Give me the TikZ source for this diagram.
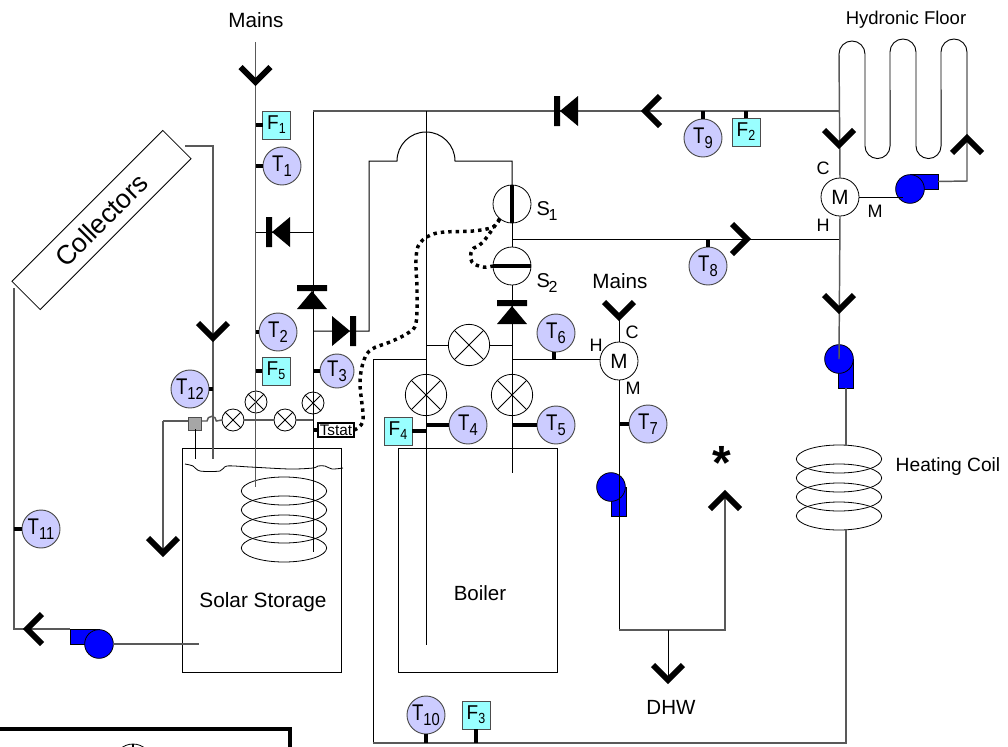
\documentclass[tikz,border=0pt]{standalone}
\usepackage{fontspec}
\setmainfont{Liberation Sans}
\newcommand{\fs}[1]{\fontsize{#1}{#1}\selectfont}
\newcommand{\tlab}[1]{\scalebox{0.82}[1]{\fs{17}T}\raisebox{-4pt}{\scalebox{0.85}[1]{\fs{13}#1}}}
\newcommand{\flab}[1]{\scalebox{0.95}[1]{\fs{15}F}\raisebox{-3pt}{\scalebox{0.85}[1]{\fs{11}#1}}}
\newcommand{\slab}[1]{\fs{15}S\hspace{-1pt}\raisebox{-3.5pt}{\fs{12}#1}}
\definecolor{sensorfill}{HTML}{CCCCFF}
\definecolor{flowfill}{HTML}{99FFFF}
\tikzset{
  x=0.75pt,y=-0.75pt,
  pipe/.style={draw=black,line width=0.75pt},
  gpipe/.style={draw=black!65,line width=1.1pt},
  thin outline/.style={draw=black,line width=0.6pt},
  tsensor/.style={circle,draw=black!70,line width=0.7pt,fill=sensorfill,minimum size=28.5pt,inner sep=0pt,outer sep=0pt},
  fsensor/.style={rectangle,draw=black!70,line width=0.7pt,fill=flowfill,minimum size=21pt,inner sep=0pt,outer sep=0pt},
  tick/.style={draw=black,line width=2.4pt},
  xvalve/.style={circle,thin outline,inner sep=0pt,outer sep=0pt,minimum size=#1,
     path picture={\draw[line width=0.6pt] (path picture bounding box.north west)--(path picture bounding box.south east)
        (path picture bounding box.north east)--(path picture bounding box.south west);}},
  roundnode/.style={circle,thin outline,fill=white,inner sep=0pt,outer sep=0pt,minimum size=28.5pt},
  pumpcircle/.style={circle,draw=black,line width=0.6pt,fill=blue,inner sep=0pt,outer sep=0pt,minimum size=21.5pt},
  pumpbody/.style={rectangle,draw=black,line width=0.5pt,fill=blue,inner sep=0pt,outer sep=0pt},
  chevronline/.style={draw=black,line width=4.4pt,miter limit=10},
  cvfill/.style={fill=black},
  label/.style={inner sep=0pt,font=\fs{13.5}},
  dotline/.style={draw=black,line width=2.6pt,dash pattern=on 2.6pt off 3pt},
  tank/.style={rectangle,thin outline,inner sep=0pt,outer sep=0pt},
}
\newcommand{\chevronat}[3]{\draw[chevronline,shift={(#1,#2)},rotate=#3] (-15,-15)--(0,0)--(15,-15);}
\newcommand{\checkvalve}[3]{\fill[cvfill,shift={(#1,#2)},rotate=#3] (-15,-6) rectangle (15,0) (0,0)--(-15,18)--(15,18)--cycle;}
\begin{document}
\begin{tikzpicture}
\useasboundingbox (0,0) rectangle (1008,747);
\clip (0,0) rectangle (1008,747);
\fill[white] (0,0) rectangle (1008,747);

% reference columns
\coordinate (cMain) at (255.5,0);
\coordinate (cB) at (313,0);
\coordinate (cRet) at (213,0);
\coordinate (cLeft) at (14,0);
\coordinate (cL) at (426,0);
\coordinate (cR) at (512,0);
\coordinate (cDhw) at (619,0);
\coordinate (cFloor) at (839,0);
\coordinate (rTop) at (0,111);
\coordinate (r239) at (0,239);
\coordinate (r359) at (0,359);
\coordinate (r743) at (0,743);

% tanks
\node[tank,minimum width=119.25pt,minimum height=168pt] (storage) at (261.5,560) {};
\node[tank,minimum width=119.25pt,minimum height=168pt] (boiler) at (477.5,560) {};
\node[label,font=\fs{15.6}] (lStorage) at (263,602) {Solar Storage};
\node[label,font=\fs{15.4}] (lBoiler) at (480,593) {Boiler};

% collectors
\node[rectangle,thin outline,rotate=45,minimum width=160pt,minimum height=30pt,inner sep=0pt,outer sep=0pt,font=\fs{20}] (coll) at (101.5,220) {Collectors\hspace{6pt}};

% coils
\foreach \y in {491,510,529,548} \draw[pipe,line width=0.6pt] (284,\y) ellipse [x radius=32pt,y radius=10.5pt];
\foreach \y in {459,478,497,516} \draw[pipe,line width=0.6pt] (839,\y) ellipse [x radius=32pt,y radius=10.5pt];
\coordinate (hcTop) at (846,445);
\coordinate (hcBot) at (846,530);

% pumps
\node[pumpbody,minimum width=21pt,minimum height=11pt] (pb1) at (924,181.5) {};
\node[pumpcircle] (p1) at (910,189) {};
\node[pumpbody,minimum width=22pt,minimum height=11pt] (pb2) at (84.5,636.5) {};
\node[pumpcircle] (p2) at (99,644) {};
\node[pumpbody,minimum width=11pt,minimum height=22pt] (pb3) at (846,373.5) {};
\node[pumpcircle] (p3) at (839,359) {};
\node[pumpbody,minimum width=11pt,minimum height=22pt] (pb4) at (618.5,501.5) {};
\node[pumpcircle] (p4) at (611,487) {};

% mixing valves and switching valves
\node[roundnode,font=\fs{15.5}] (m1) at (840,197) {M};
\node[roundnode,font=\fs{15.5}] (m2) at (619,361) {M};
\node[roundnode] (s1) at (512,204) {};
\node[roundnode] (s2) at (512,266) {};
\node[xvalve=16.5pt] (x1) at (233,420) {};
\node[xvalve=16.5pt] (x2) at (285,420) {};
\node[xvalve=16.5pt] (x3) at (256,402) {};
\node[xvalve=16.5pt] (x4) at (313,403) {};
\node[xvalve=31pt] (x5) at (469,345) {};
\node[xvalve=31pt] (x6) at (426,395) {};
\node[xvalve=31pt] (x7) at (512,395) {};

% small blocks
\node[rectangle,draw=black!70,line width=0.6pt,fill=black!35,minimum size=9.5pt,inner sep=0pt,outer sep=0pt] (gray) at (195,424) {};
\node[rectangle,draw=black,line width=1.9pt,fill=white,minimum width=27pt,minimum height=10.5pt,inner sep=0pt,outer sep=0pt,font=\fs{11.5}] (tstat) at (336,430) {Tstat};

% pipes: mains and storage circuits
\draw[gpipe] (255.5,42) -- (255.5,487);
\draw[pipe] (cB |- rTop) -- (313,552);
\draw[gpipe] (cB |- rTop) -- (cFloor |- rTop);
\draw[pipe] (cMain |- 0,232) -- (cB |- 0,232);
\draw[pipe] (cB |- 0,331) -- (369,331) -- (369,161) -- (397,161)
   arc[start angle=180,end angle=0,radius=21.75pt] -- (512,161) -- (s1.north);
\draw[pipe] (s1.south) -- (s2.north);
\draw[pipe] (s2.south) -- (512,473);
\draw[pipe] (cL |- rTop) -- (426,645);
\draw[pipe] (512,239) -- (cFloor |- r239);
\draw[pipe] (cL |- 0,345) -- (x5.west);
\draw[pipe] (x5.east) -- (cR |- 0,345);
\draw[pipe] (cL |- r359) -- (373,359) -- (373,743);
\draw[gpipe] (373,743) -- (846,743) -- (hcBot);
\draw[pipe] (cR |- r359) -- (m2.west |- r359);
\draw[pipe] (cDhw |- 0,317) -- (m2.north);
\draw[pipe] (m2.south) -- (619,630);
\draw[gpipe] (619,630) -- (725,630) -- (725,494);
\draw[pipe] (668,630) -- (668,680);

% collector loop
\draw[gpipe] (185,146) -- (213,146) -- (213,459);
\draw[gpipe] (14,288) -- (14,629) -- (pb2.west |- 0,629);
\draw[gpipe] (p2.east) -- (199,644);
\draw[gpipe] (163,421) -- (163,553);
\draw[gpipe] (163,421) -- (188,421);
\draw[pipe] (195,429) -- (195,459);
\draw[gpipe] (202,421) -- (207,421) arc[start angle=180,end angle=0,radius=3.5pt] -- (x1.west);
\draw[gpipe] (x1.east) -- (x2.west);
\draw[gpipe] (x2.east) -- (cB |- 0,420);
\draw[pipe,line width=0.6pt] plot[smooth,tension=0.5] coordinates {(185,464) (193,466) (200,471) (220,471) (227,466) (250,467) (290,469) (313,468) (318,466) (325,466) (332,469) (343,468)};

% floor loop
\draw[gpipe] (cFloor |- 0,54) -- (m1.north);
\draw[pipe,line width=0.7pt] (839,54) arc[start angle=180,end angle=0,radius=9.75pt] -- (865,146)
   arc[start angle=180,end angle=360,radius=9.4pt] -- (890,52)
   arc[start angle=180,end angle=0,radius=9.75pt] -- (916,146)
   arc[start angle=180,end angle=360,radius=9.4pt] -- (941,52)
   arc[start angle=180,end angle=0,radius=9.75pt];
\draw[gpipe] (967,52) -- (967,181) -- (pb1.east);
\draw[pipe] (m1.east) -- (903,197);
\draw[gpipe] (m1.south) -- (839,359);
\draw[gpipe] (pb3.south -| hcTop) -- (hcTop);

% check valves
\checkvalve{272}{232}{90}
\checkvalve{312}{291}{0}
\checkvalve{350}{331}{-90}
\checkvalve{560}{111}{90}
\checkvalve{512}{306}{0}

% chevrons
\chevronat{255.5}{82}{0}
\chevronat{213}{338}{0}
\chevronat{163}{553}{0}
\chevronat{27}{629}{-90}
\chevronat{668}{680}{0}
\chevronat{725}{494}{180}
\chevronat{839}{145}{0}
\chevronat{967}{138}{180}
\chevronat{747}{239}{90}
\chevronat{645}{111}{-90}
\chevronat{619}{317}{0}
\chevronat{839}{310}{0}

% switching valve bars
\draw[line width=2.6pt] (s1.north) -- (s1.south);
\draw[line width=2.6pt] (s2.west) -- (s2.east);

% temperature sensors
\node[tsensor] (t1) at (282,166) {\tlab{1}};
\node[tsensor] (t2) at (278,332) {\tlab{2}};
\node[tsensor,minimum size=25.5pt] (t3) at (337,371) {\tlab{3}};
\node[tsensor] (t4) at (468,425) {\tlab{4}};
\node[tsensor] (t5) at (556,425) {\tlab{5}};
\node[tsensor] (t6) at (556,333) {\tlab{6}};
\node[tsensor] (t7) at (648,424) {\tlab{7}};
\node[tsensor] (t8) at (708,266) {\tlab{8}};
\node[tsensor] (t9) at (703,138) {\tlab{9}};
\node[tsensor] (t10) at (426,715) {\tlab{10}};
\node[tsensor] (t11) at (41,529) {\tlab{11}};
\node[tsensor] (t12) at (190,389) {\tlab{12}};

% flow sensors
\node[fsensor] (f1) at (276.5,125) {\flab{1}};
\node[fsensor] (f2) at (746,132) {\flab{2}};
\node[fsensor] (f3) at (476,715) {\flab{3}};
\node[fsensor] (f4) at (398,431) {\flab{4}};
\node[fsensor] (f5) at (276,371) {\flab{5}};

% sensor stubs
\draw[tick] (t1.west) -- (t1.west -| cMain);
\draw[tick] (t2.west) -- (t2.west -| cMain);
\draw[tick] (t3.west) -- (t3.west -| cB);
\draw[tick] (t4.west) -- (t4.west -| cL);
\draw[tick] (t5.west) -- (t5.west -| cR);
\draw[tick] (554,352) -- (554 ,359);
\draw[tick] (t7.west) -- (t7.west -| cDhw);
\draw[tick] (708,247) -- (708,239);
\draw[tick] (703,119) -- (703,111);
\draw[tick] (t10.south) -- (t10.south |- r743);
\draw[tick] (t11.west) -- (t11.west -| cLeft);
\draw[tick] (t12.east) -- (t12.east -| cRet);
\draw[tick] (f1.west) -- (f1.west -| cMain);
\draw[tick] (f2.north) -- (f2.north |- rTop);
\draw[tick] (f3.south) -- (f3.south |- r743);
\draw[tick] (f4.east) -- (f4.east -| cL);
\draw[tick] (f5.west) -- (f5.west -| cMain);
\draw[tick] (tstat.west) -- (tstat.west -| cB);

% thermostat wiring
\draw[dotline] plot[smooth,tension=0.6] coordinates {(tstat.east) (363,420) (360,383) (364,360) (372,349) (390,342) (408,333) (416,323) (417,290) (416,260) (420,243) (437,233) (473,231) (493,227) (s1.-130)};
\draw[dotline] plot[smooth,tension=0.6] coordinates {(s1.-130) (483,242) (472,250) (472,262) (483,267) (s2.west)};

% labels
\node[label,font=\fs{15.5}] (lm1) at (256,20) {Mains};
\node[label,font=\fs{15.5}] (lm2) at (620,281) {Mains};
\node[label,font=\fs{13.9}] (lhf) at (906,20) {Hydronic Floor};
\node[label,font=\fs{14.4}] (lhc) at (948,467) {Heating Coil};
\node[label,font=\fs{15.4}] (ldhw) at (671,707) {DHW};
\node[label] (ls1) at (547,211) {\slab{1}};
\node[label] (ls2) at (547,283) {\slab{2}};
\node[label] (lc1) at (823,168) {C};
\node[label] (lh1) at (823,225) {H};
\node[label] (lmm1) at (875,211) {M};
\node[label] (lh2) at (596,345) {H};
\node[label] (lc2) at (632,332) {C};
\node[label] (lmm2) at (633,388) {M};
\node[label,font=\fs{36}\bfseries] (star) at (722,463) {*};

% legend box, cut by the page edge
\draw[line width=2.6pt] (-5,729) -- (290,729) -- (290,760);
\node[roundnode] (legend) at (133,763) {};
\draw[line width=2.2pt] (legend.north) -- (legend.south);
\end{tikzpicture}
\end{document}
